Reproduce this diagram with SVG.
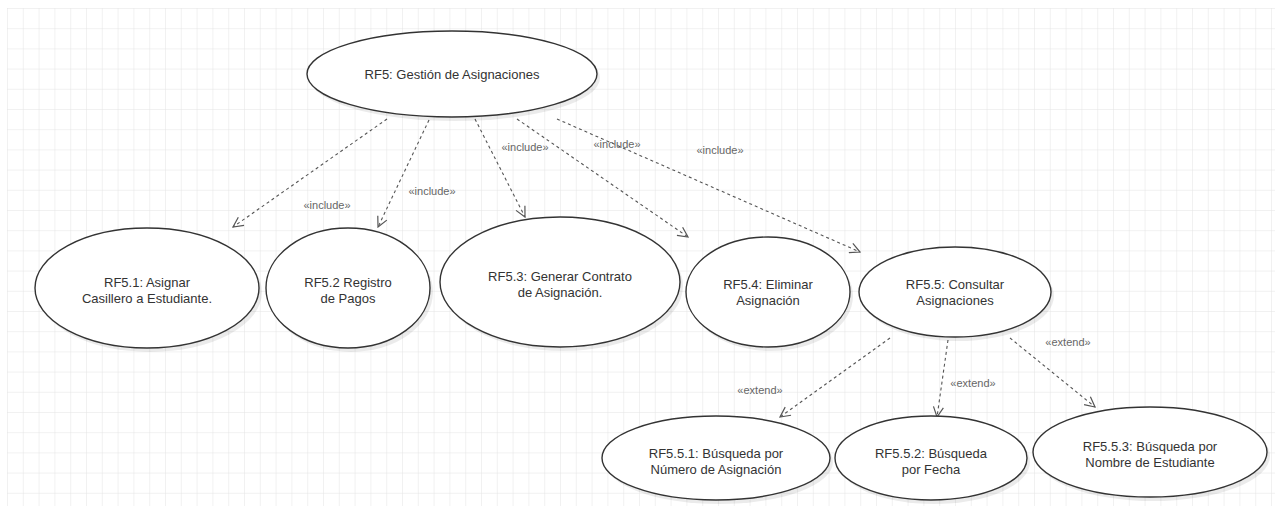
<svg xmlns="http://www.w3.org/2000/svg" width="1279" height="511" viewBox="0 0 1279 511">
  <defs>
    <pattern id="grid" x="7" y="8" width="15.8" height="20.2" patternUnits="userSpaceOnUse">
      <path d="M0 0 H15.8 M0 0 V20.2" fill="none" stroke="#e4e4e4" stroke-width="1"/>
    </pattern>
    <marker id="open" viewBox="0 0 12 12" refX="11" refY="6" markerWidth="12" markerHeight="12" markerUnits="userSpaceOnUse" orient="auto">
      <path d="M1 1 L11 6 L1 11" fill="none" stroke="#555" stroke-width="1.2"/>
    </marker>
  </defs>
  <style>
    .uc { fill: #fff; stroke: #333; stroke-width: 1.4; }
    .sh { fill: #000; opacity: 0.08; }
    .t { font-family: "Liberation Sans", Arial, sans-serif; font-size: 13px; fill: #333; text-anchor: middle; }
    .edge { fill: none; stroke: #555; stroke-width: 1.1; stroke-dasharray: 3 3; marker-end: url(#open); }
    .lbl { font-family: "Liberation Sans", Arial, sans-serif; font-size: 11px; fill: #666; text-anchor: middle; }
  </style>

  <rect width="1279" height="511" fill="#fff"/>
  <rect x="7" y="8" width="1268" height="498" fill="url(#grid)"/>

  <g id="connectors">
    <path class="edge" d="M387 119 L233 227"/>
    <path class="edge" d="M429 120 L378 227"/>
    <path class="edge" d="M475 119 L525 217"/>
    <path class="edge" d="M517 119 L688 237"/>
    <path class="edge" d="M557 119 L860 252"/>
    <path class="edge" d="M890 338 L780 417"/>
    <path class="edge" d="M948 340 L937 417"/>
    <path class="edge" d="M1010 338 L1095 407"/>
    <text class="lbl" x="327" y="209">«include»</text>
    <text class="lbl" x="432" y="195">«include»</text>
    <text class="lbl" x="525" y="151">«include»</text>
    <text class="lbl" x="617" y="148">«include»</text>
    <text class="lbl" x="720" y="154">«include»</text>
    <text class="lbl" x="760" y="394">«extend»</text>
    <text class="lbl" x="973" y="387">«extend»</text>
    <text class="lbl" x="1068" y="346">«extend»</text>
  </g>

  <g id="rf5">
    <ellipse class="sh" cx="455" cy="78" rx="145" ry="43"/>
    <ellipse class="uc" cx="452" cy="74" rx="145" ry="43"/>
    <text class="t" x="452" y="79">RF5: Gestión de Asignaciones</text>
  </g>

  <g id="rf5-1">
    <ellipse class="sh" cx="150" cy="292" rx="112" ry="60"/>
    <ellipse class="uc" cx="147" cy="288" rx="112" ry="60"/>
    <text class="t" x="147" y="287">RF5.1: Asignar</text>
    <text class="t" x="147" y="303">Casillero a Estudiante.</text>
  </g>

  <g id="rf5-2">
    <ellipse class="sh" cx="351" cy="292" rx="82" ry="60"/>
    <ellipse class="uc" cx="348" cy="288" rx="82" ry="60"/>
    <text class="t" x="348" y="287">RF5.2 Registro</text>
    <text class="t" x="348" y="303">de Pagos</text>
  </g>

  <g id="rf5-3">
    <ellipse class="sh" cx="563" cy="286" rx="120" ry="65"/>
    <ellipse class="uc" cx="560" cy="282" rx="120" ry="65"/>
    <text class="t" x="560" y="281">RF5.3: Generar Contrato</text>
    <text class="t" x="560" y="297">de Asignación.</text>
  </g>

  <g id="rf5-4">
    <ellipse class="sh" cx="771" cy="296" rx="82" ry="55"/>
    <ellipse class="uc" cx="768" cy="292" rx="82" ry="55"/>
    <text class="t" x="768" y="289">RF5.4: Eliminar</text>
    <text class="t" x="768" y="305">Asignación</text>
  </g>

  <g id="rf5-5">
    <ellipse class="sh" cx="958" cy="296" rx="96" ry="45"/>
    <ellipse class="uc" cx="955" cy="292" rx="96" ry="45"/>
    <text class="t" x="955" y="289">RF5.5: Consultar</text>
    <text class="t" x="955" y="305">Asignaciones</text>
  </g>

  <g id="rf5-5-1">
    <ellipse class="sh" cx="719" cy="462" rx="114" ry="42"/>
    <ellipse class="uc" cx="716" cy="458" rx="114" ry="42"/>
    <text class="t" x="716" y="458">RF5.5.1: Búsqueda por</text>
    <text class="t" x="716" y="474">Número de Asignación</text>
  </g>

  <g id="rf5-5-2">
    <ellipse class="sh" cx="934" cy="462" rx="96" ry="42"/>
    <ellipse class="uc" cx="931" cy="458" rx="96" ry="42"/>
    <text class="t" x="931" y="458">RF5.5.2: Búsqueda</text>
    <text class="t" x="931" y="474">por Fecha</text>
  </g>

  <g id="rf5-5-3">
    <ellipse class="sh" cx="1153" cy="456" rx="117" ry="45"/>
    <ellipse class="uc" cx="1150" cy="452" rx="117" ry="45"/>
    <text class="t" x="1150" y="451">RF5.5.3: Búsqueda por</text>
    <text class="t" x="1150" y="467">Nombre de Estudiante</text>
  </g>
</svg>
